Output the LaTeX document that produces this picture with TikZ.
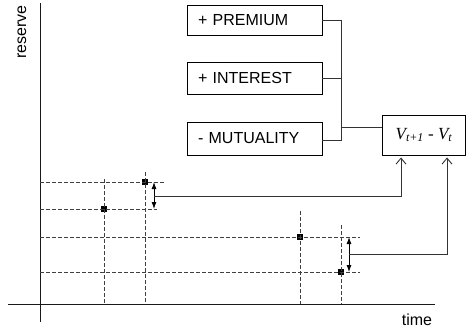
\documentclass[tikz,border=0pt]{standalone}
\usepackage{fontspec}
\setmainfont{Liberation Sans}
\newfontfamily\lserif{Liberation Serif}
\usetikzlibrary{arrows.meta}
\begin{document}
\begin{tikzpicture}[x=1pt,y=-1pt,
  axis/.style={line width=1pt, black!90},
  gridl/.style={dash pattern=on 3.5pt off 2.5pt, line width=0.9pt, black!75},
  lbl/.style={draw, line width=0.9pt, text width=113pt, align=left, inner xsep=11pt, inner ysep=0pt, font=\fontsize{16}{19}\selectfont},
  vbox/.style={draw, line width=0.9pt, minimum width=83pt, minimum height=40pt, inner sep=0pt, font=\fontsize{17}{19}\selectfont\lserif},
  ptm/.style={fill=black, minimum size=5.5pt, inner sep=0pt},
  conn/.style={line width=0.9pt, black!80},
  dbl/.style={line width=0.9pt, {Latex[length=7pt,width=5pt]}-{Latex[length=7pt,width=5pt]}},
  barb/.style={-{Straight Barb[length=6pt,width=10pt]}, shorten >=2pt},
  txt/.style={font=\fontsize{16}{19}\selectfont, inner sep=0pt}
]
\useasboundingbox (0,0) rectangle (466,330);
% axes
\coordinate (yt) at (40,3);
\coordinate (yb) at (40,322);
\coordinate (xl) at (8,304);
\coordinate (xr) at (435,304);
\draw[axis] (yt) -- (yb);
\draw[axis] (xl) -- (xr);
\node[txt, rotate=90] (res) at (22,32) {reserve};
\node[txt] (time) at (417,320) {time};
% boxes
\node[lbl, minimum height=30pt] (prem) at (254.5,20) {+ PREMIUM};
\node[lbl, minimum height=32pt] (inte) at (254.5,78) {+ INTEREST};
\node[lbl, minimum height=33pt] (mutu) at (254.5,138.5) {- MUTUALITY};
\node[vbox] (v) at (424,135) {\itshape V\textsubscript{t+1} - V\textsubscript{t}};
% bus
\coordinate (bt) at (341,20);
\coordinate (bb) at (341,140);
\coordinate (bm) at (341,127);
\draw[conn] (prem.east |- bt) -- (bt) -- (bb) -- (mutu.east |- bb);
\draw[conn] (inte.east) -- (inte.east -| bt);
\draw[conn] (bm) -- (bm -| v.west);
% points
\node[ptm] (p1) at (145,182) {};
\node[ptm] (p2) at (104,209) {};
\node[ptm] (p3) at (300,237) {};
\node[ptm] (p4) at (341,272) {};
% dashed grid
\coordinate (h1) at (165,182);
\coordinate (h2) at (157,209);
\coordinate (h3) at (360,237);
\coordinate (h4) at (360,272);
\draw[gridl] (h1 -| yt) -- (h1);
\draw[gridl] (h2 -| yt) -- (h2);
\draw[gridl] (h3 -| yt) -- (h3);
\draw[gridl] (h4 -| yt) -- (h4);
\coordinate (g1) at (104,179);
\coordinate (g2) at (145,172);
\coordinate (g3) at (300,211);
\coordinate (g4) at (341,225);
\draw[gridl] (g1) -- (g1 |- xl);
\draw[gridl] (g2) -- (g2 |- xl);
\draw[gridl] (g3) -- (g3 |- xl);
\draw[gridl] (g4) -- (g4 |- xl);
% double arrows
\coordinate (a1t) at (154,182);
\coordinate (a1b) at (154,209);
\coordinate (a1m) at (154,196);
\coordinate (a2t) at (349,237);
\coordinate (a2b) at (349,272);
\coordinate (a2m) at (349,254);
\draw[dbl] (a1t) -- (a1b);
\draw[dbl] (a2t) -- (a2b);
% connectors to V box
\draw[conn, barb] (a1m) -| ([xshift=-23pt]v.south);
\draw[conn, barb] (a2m) -| ([xshift=23pt]v.south);
\end{tikzpicture}
\end{document}
